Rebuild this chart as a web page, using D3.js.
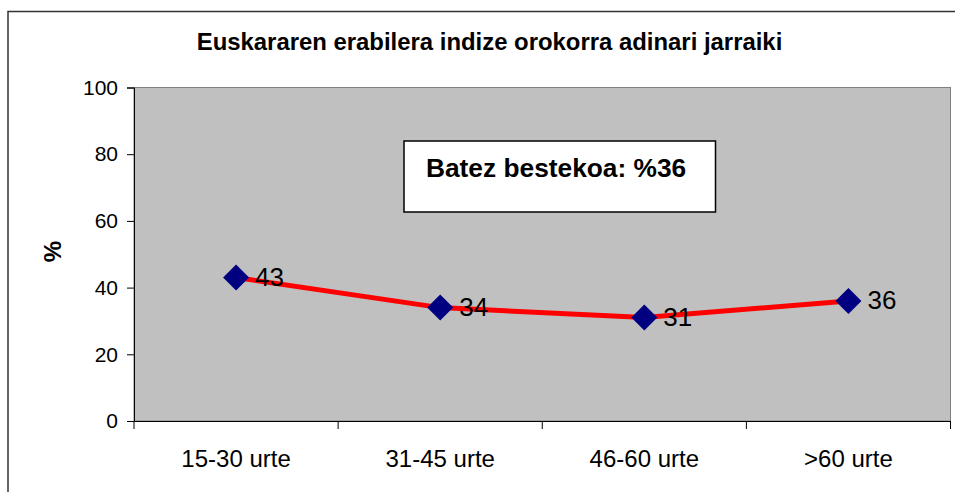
<!DOCTYPE html>
<html><head><meta charset="utf-8">
<script src="https://cdn.jsdelivr.net/npm/d3@7"></script>
<style>body{margin:0;background:#fff}svg{display:block;font-family:"Liberation Sans",Arial,sans-serif}</style>
</head><body><svg id="c" width="955" height="492"></svg>
<script>
const title = "Euskararen erabilera indize orokorra adinari jarraiki";
const categories = ["15-30 urte", "31-45 urte", "46-60 urte", ">60 urte"];
const values = [43, 34, 31, 36];
const yTicks = [0, 20, 40, 60, 80, 100];
const yLabel = "%";
const note = "Batez bestekoa: %36";

const svg = d3.select("#c");
const m = {l:134, t:87.5, r:950.5, b:421};
// outer border
svg.append("rect").attr("x",8).attr("y",11.5).attr("width",960).attr("height",500)
  .attr("fill","#fff").attr("stroke","#333").attr("stroke-width",1.5);

svg.append("text").attr("x",489.5).attr("y",50).attr("text-anchor","middle")
  .attr("font-weight","bold").attr("font-size",23.9).text(title);

const x = d3.scaleBand().domain(categories).range([m.l, m.r]).padding(0);
const y = d3.scaleLinear().domain([0,100]).range([m.b, m.t]);

svg.append("rect").attr("x",m.l).attr("y",m.t).attr("width",m.r-m.l).attr("height",m.b-m.t)
  .attr("fill","#c0c0c0").attr("stroke","#808080").attr("stroke-width",1);

const ya = svg.append("g").attr("transform",`translate(${m.l},0)`)
  .call(d3.axisLeft(y).tickValues(yTicks).tickSize(7).tickPadding(9));
ya.select(".domain").attr("stroke","#000");
ya.selectAll(".tick line").attr("stroke","#000");
ya.selectAll("text").attr("font-size",21).attr("fill","#000").attr("font-family","Liberation Sans, Arial");

const xa = svg.append("g").attr("transform",`translate(0,${m.b})`)
  .call(d3.axisBottom(x).tickSize(0).tickPadding(0));
xa.select(".domain").attr("stroke","#000");
xa.selectAll(".tick text").attr("font-size",24).attr("fill","#000").attr("dy",null).attr("y",46)
  .attr("font-family","Liberation Sans, Arial");
// category boundary ticks
const bounds = categories.map(c=>x(c)).concat([x(categories[categories.length-1])+x.bandwidth()]);
svg.append("g").selectAll("line").data(bounds).join("line")
  .attr("x1",d=>d).attr("x2",d=>d).attr("y1",m.b).attr("y2",m.b+8).attr("stroke","#000");

svg.append("text").attr("transform",`translate(52,251.5) rotate(-90)`).attr("text-anchor","middle")
  .attr("dominant-baseline","central").attr("font-weight","bold").attr("font-size",24).text(yLabel);

// note box
svg.append("rect").attr("x",404).attr("y",141).attr("width",311.5).attr("height",71)
  .attr("fill","#fff").attr("stroke","#000").attr("stroke-width",1.5);
svg.append("text").attr("x",426).attr("y",177.3).attr("font-weight","bold").attr("font-size",26.3).text(note);

const cx = c => x(c) + x.bandwidth()/2;
const line = d3.line().x((d,i)=>cx(categories[i])).y(d=>y(d));
svg.append("path").datum(values).attr("d",line).attr("fill","none").attr("stroke","#ff0000").attr("stroke-width",5);

svg.append("g").selectAll("path").data(values).join("path")
  .attr("transform",(d,i)=>`translate(${cx(categories[i])},${y(d)})`)
  .attr("d","M0,-13L13,0L0,13L-13,0Z").attr("fill","#000080");

svg.append("g").selectAll("text").data(values).join("text")
  .attr("x",(d,i)=>cx(categories[i])+19).attr("y",d=>y(d)+8.5)
  .attr("font-size",26).text(d=>d);
</script></body></html>
